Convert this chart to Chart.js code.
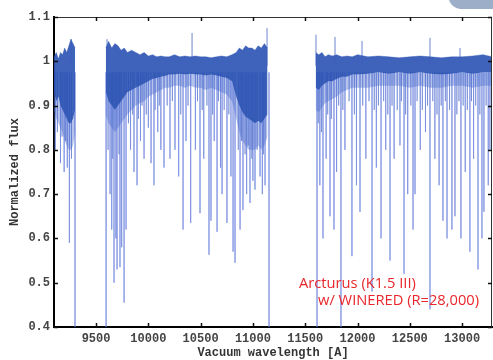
<!DOCTYPE html>
<html>
<head>
<meta charset="utf-8">
<script src="https://cdn.jsdelivr.net/npm/chart.js@4.4.0/dist/chart.umd.min.js"></script>
<style>
  html, body { margin: 0; padding: 0; background: #fff; }
  #wrap { width: 493px; height: 360px; }
</style>
</head>
<body>
<div id="wrap"><canvas id="spectrum" width="493" height="360"></canvas></div>
<script>
// --- axes ---
const xTicks = [9500, 10000, 10500, 11000, 11500, 12000, 12500, 13000];
const yTicks = [0.4, 0.5, 0.6, 0.7, 0.8, 0.9, 1.0, 1.1];
const yTickLabels = ['0.4', '0.5', '0.6', '0.7', '0.8', '0.9', '1', '1.1'];

// --- spectrum band, segment 1 (wavelength, upper edge, dense core bottom, faint bottom) ---
const seg1Wave = [9098, 9120, 9140, 9160, 9180, 9200, 9220, 9240, 9260, 9280, 9300];
const seg1Top  = [1.01, 1.02, 1.005, 1.02, 1.015, 1.03, 1.02, 1.035, 1.05, 1.04, 1.03];
const seg1Core = [0.93, 0.91, 0.92, 0.90, 0.89, 0.88, 0.87, 0.86, 0.86, 0.87, 0.89];
const seg1Low  = [0.89, 0.87, 0.86, 0.85, 0.84, 0.82, 0.81, 0.80, 0.80, 0.81, 0.84];

// segment 2
const seg2Wave = [9593, 9620, 9650, 9680, 9710, 9740, 9770, 9800, 9840, 9880, 9920, 9960, 10000, 10040, 10080,
                  10120, 10160, 10200, 10250, 10300, 10350, 10400, 10450, 10500, 10550, 10600, 10650, 10700,
                  10750, 10800, 10840, 10870, 10900, 10930, 10960, 10990, 11020, 11050, 11080, 11110, 11140];
const seg2Top  = [1.03, 1.045, 1.03, 1.04, 1.035, 1.025, 1.03, 1.02, 1.025, 1.02, 1.015, 1.02, 1.012, 1.015, 1.01,
                  1.012, 1.01, 1.01, 1.015, 1.01, 1.012, 1.01, 1.012, 1.01, 1.01, 1.008, 1.01, 1.012,
                  1.01, 1.015, 1.02, 1.03, 1.025, 1.035, 1.03, 1.03, 1.025, 1.035, 1.03, 1.04, 1.03];
const seg2Core = [0.93, 0.91, 0.90, 0.89, 0.90, 0.91, 0.92, 0.93, 0.935, 0.94, 0.945, 0.95, 0.955, 0.96, 0.962,
                  0.965, 0.967, 0.97, 0.97, 0.972, 0.97, 0.972, 0.97, 0.97, 0.968, 0.97, 0.968, 0.965,
                  0.962, 0.955, 0.92, 0.90, 0.885, 0.875, 0.87, 0.865, 0.86, 0.865, 0.86, 0.87, 0.88];
const seg2Low  = [0.88, 0.86, 0.85, 0.84, 0.85, 0.86, 0.87, 0.88, 0.89, 0.90, 0.905, 0.91, 0.92, 0.925, 0.93,
                  0.935, 0.94, 0.94, 0.945, 0.945, 0.94, 0.945, 0.94, 0.94, 0.935, 0.94, 0.935, 0.93,
                  0.925, 0.91, 0.87, 0.84, 0.82, 0.81, 0.80, 0.80, 0.80, 0.81, 0.80, 0.81, 0.83];

// segment 3
const seg3Wave = [11600, 11630, 11660, 11690, 11720, 11760, 11800, 11850, 11900, 11950, 12000, 12100,
                  12200, 12300, 12400, 12500, 12600, 12700, 12800, 12900, 13000, 13100, 13200, 13290];
const seg3Top  = [1.02, 1.015, 1.02, 1.01, 1.015, 1.012, 1.015, 1.01, 1.012, 1.01, 1.015, 1.01,
                  1.012, 1.01, 1.008, 1.01, 1.012, 1.01, 1.008, 1.01, 1.01, 1.012, 1.015, 1.01];
const seg3Core = [0.94, 0.935, 0.945, 0.95, 0.955, 0.955, 0.96, 0.965, 0.965, 0.97, 0.97, 0.972,
                  0.975, 0.972, 0.975, 0.972, 0.975, 0.972, 0.97, 0.972, 0.975, 0.972, 0.975, 0.975];
const seg3Low  = [0.89, 0.885, 0.895, 0.905, 0.91, 0.915, 0.92, 0.93, 0.935, 0.94, 0.94, 0.94,
                  0.945, 0.945, 0.945, 0.94, 0.945, 0.94, 0.94, 0.945, 0.945, 0.94, 0.945, 0.945];

// --- absorption lines: wavelength and line-bottom flux ---
const absWave = [9110, 9160, 9195, 9225, 9245, 9299,
                 9596, 9634, 9650, 9672, 9690, 9701, 9729, 9745, 9768, 9787,
                 9830, 9863, 9892, 9925, 9959, 10000, 10026, 10054, 10090, 10120, 10150,
                 10207, 10255, 10290, 10332, 10360, 10405, 10450, 10494, 10530, 10580, 10599, 10630,
                 10657, 10690, 10705, 10752, 10790, 10810, 10829, 10877, 10905, 10940, 10972, 11000,
                 11020, 11068, 11090, 11116, 11154,
                 11613, 11640, 11670, 11700, 11737, 11775, 11800, 11842, 11880, 11947, 11990, 12024,
                 12080, 12139, 12180, 12225, 12270, 12311, 12350, 12406, 12445, 12480, 12531, 12550,
                 12600, 12650, 12693, 12740, 12780, 12817, 12856, 12903, 12932, 12989, 13030, 13075,
                 13110, 13152, 13190, 13209, 13250, 13266];
const absDepth = [0.80, 0.77, 0.75, 0.76, 0.59, 0.40,
                  0.40, 0.70, 0.62, 0.50, 0.60, 0.53, 0.535, 0.58, 0.455, 0.62,
                  0.80, 0.75, 0.72, 0.82, 0.78, 0.85, 0.77, 0.72, 0.84, 0.80, 0.76,
                  0.78, 0.80, 0.74, 0.62, 0.82, 0.635, 0.80, 0.657, 0.78, 0.563, 0.64, 0.82,
                  0.615, 0.76, 0.70, 0.635, 0.74, 0.57, 0.545, 0.62, 0.664, 0.70, 0.68, 0.73,
                  0.71, 0.74, 0.70, 0.72, 0.40,
                  0.40, 0.72, 0.60, 0.78, 0.65, 0.62, 0.75, 0.40, 0.80, 0.56, 0.72, 0.66,
                  0.78, 0.48, 0.76, 0.60, 0.80, 0.55, 0.78, 0.81, 0.52, 0.70, 0.62, 0.70,
                  0.80, 0.84, 0.44, 0.78, 0.72, 0.64, 0.60, 0.62, 0.65, 0.60, 0.75, 0.57,
                  0.78, 0.53, 0.60, 0.66, 0.72, 0.80];

// shallow lines that give the band its hairline texture
const weakWave = [9130, 9175, 9210, 9265, 9615, 9660, 9720, 9810, 9850, 9905, 9940, 9980, 10065, 10105, 10180,
                  10230, 10310, 10380, 10470, 10515, 10560, 10615, 10670, 10725, 10770, 10860, 10890, 10925,
                  10955, 10990, 11040, 11100, 11625, 11655, 11715, 11750, 11820, 11860, 11920, 11970, 12050,
                  12110, 12160, 12200, 12250, 12290, 12330, 12380, 12420, 12460, 12510, 12570, 12620, 12670,
                  12720, 12760, 12800, 12840, 12880, 12950, 12970, 13010, 13050, 13090, 13130, 13170, 13230, 13280];
const weakDepth = [0.84, 0.83, 0.82, 0.78, 0.80, 0.78, 0.79, 0.86, 0.88, 0.87, 0.90, 0.88, 0.89, 0.90, 0.90,
                   0.91, 0.88, 0.90, 0.91, 0.89, 0.90, 0.88, 0.91, 0.89, 0.88, 0.80, 0.82, 0.79,
                   0.81, 0.78, 0.80, 0.79, 0.86, 0.84, 0.88, 0.87, 0.90, 0.89, 0.91, 0.88, 0.90,
                   0.91, 0.89, 0.90, 0.91, 0.88, 0.90, 0.89, 0.91, 0.88, 0.90, 0.91, 0.89, 0.90,
                   0.91, 0.88, 0.90, 0.91, 0.89, 0.88, 0.91, 0.90, 0.89, 0.91, 0.90, 0.88, 0.90, 0.91];

// emission-like spikes above the continuum: wavelength, peak flux
const spikeWave = [9262, 9605, 10418, 11135, 11603, 11785, 12043, 12693, 12980];
const spikeTop  = [1.05, 1.05, 1.064, 1.075, 1.06, 1.055, 1.046, 1.053, 1.03];

const noteLines = ['Arcturus (K1.5 III)', 'w/ WINERED (R=28,000)'];

// --- colours ---
const coreBlue = 'rgba(42, 82, 178, 0.9)';
const faintBlue = 'rgba(70, 104, 205, 0.4)';
const lineBlue = 'rgba(105, 128, 222, 0.5)';

function pts(wave, vals) {
    return wave.map((w, i) => ({ x: w, y: vals[i] }));
}

function bandSets(wave, top, core, low) {
    return [
        { data: pts(wave, top), fill: '+1', backgroundColor: coreBlue, borderColor: 'rgba(42, 82, 178, 0.6)', borderWidth: 0.6, order: 1 },
        { data: pts(wave, core), fill: '+1', backgroundColor: faintBlue, borderColor: 'transparent', borderWidth: 0, order: 1 },
        { data: pts(wave, low), fill: false, borderColor: 'transparent', borderWidth: 0, order: 1 }
    ];
}

function verticals(wave, ends, start) {
    const out = [];
    wave.forEach((w, i) => {
        out.push({ x: w, y: start }, { x: w, y: ends[i] }, { x: w, y: null });
    });
    return out;
}

const datasets = [
    ...bandSets(seg1Wave, seg1Top, seg1Core, seg1Low),
    ...bandSets(seg2Wave, seg2Top, seg2Core, seg2Low),
    ...bandSets(seg3Wave, seg3Top, seg3Core, seg3Low),
    { data: verticals(absWave, absDepth, 0.975), borderColor: lineBlue, borderWidth: 1, fill: false, order: 2 },
    { data: verticals(weakWave, weakDepth, 0.975), borderColor: 'rgba(70, 100, 200, 0.35)', borderWidth: 1, fill: false, order: 2 },
    { data: verticals(spikeWave, spikeTop, 0.99), borderColor: 'rgba(60, 92, 190, 0.75)', borderWidth: 1, fill: false, order: 0 }
];
datasets.forEach(d => { d.pointRadius = 0; d.tension = 0; d.spanGaps = false; });

// frame, inward tick marks, note text and the slide corner
const decor = {
    id: 'decor',
    beforeDraw(chart) {
        const c = chart.ctx;
        c.save();
        c.fillStyle = 'rgba(140, 160, 192, 0.85)';
        c.beginPath();
        c.moveTo(449, 0); c.lineTo(493, 0); c.lineTo(493, 9); c.lineTo(460, 9);
        c.quadraticCurveTo(452, 8, 449, 0);
        c.fill();
        c.restore();
    },
    afterDraw(chart) {
        const c = chart.ctx, a = chart.chartArea;
        const xs = chart.scales.x, ys = chart.scales.y;
        c.save();
        c.strokeStyle = '#333';
        c.lineWidth = 1;
        c.beginPath();
        c.moveTo(a.left, a.top + 0.5); c.lineTo(a.right, a.top + 0.5);
        c.moveTo(a.right - 0.5, a.top); c.lineTo(a.right - 0.5, a.bottom);
        c.stroke();
        c.strokeStyle = '#111';
        c.lineWidth = 1.5;
        c.beginPath();
        xTicks.forEach(v => {
            const px = Math.round(xs.getPixelForValue(v)) + 0.5;
            c.moveTo(px, a.bottom); c.lineTo(px, a.bottom - 4);
            c.moveTo(px, a.top); c.lineTo(px, a.top + 4);
        });
        yTicks.forEach(v => {
            const py = Math.round(ys.getPixelForValue(v)) + 0.5;
            c.moveTo(a.left, py); c.lineTo(a.left + 4, py);
            c.moveTo(a.right, py); c.lineTo(a.right - 4, py);
        });
        c.stroke();
        c.fillStyle = '#e8262b';
        c.font = '14.7px "Open Sans"';
        c.textBaseline = 'alphabetic';
        c.fillText(noteLines[0], 299, 288);
        c.fillText(noteLines[1], 318, 305);
        c.restore();
    }
};

const monoFont = { family: '"Liberation Mono", "DejaVu Sans Mono", monospace', size: 12, weight: 'bold' };

new Chart(document.getElementById('spectrum'), {
    type: 'line',
    data: { datasets: datasets },
    options: {
        responsive: false,
        animation: false,
        devicePixelRatio: 1,
        layout: { padding: { top: 17, right: 1, left: 0, bottom: 0 } },
        plugins: { legend: { display: false }, tooltip: { enabled: false } },
        scales: {
            x: {
                type: 'linear', min: 9098, max: 13286,
                afterBuildTicks: s => { s.ticks = xTicks.map(v => ({ value: v })); },
                afterFit: s => { s.height = 33; },
                grid: { display: true, drawOnChartArea: false, drawTicks: false },
                border: { display: true, color: '#000', width: 2 },
                ticks: { color: '#444', font: monoFont, padding: 5, maxRotation: 0, callback: v => String(v) },
                title: { display: true, text: 'Vacuum wavelength [A]', color: '#333', font: monoFont, padding: { top: 0, bottom: 0 } }
            },
            y: {
                type: 'linear', min: 0.4, max: 1.1,
                afterBuildTicks: s => { s.ticks = yTicks.map(v => ({ value: v })); },
                afterFit: s => { s.width = 54; },
                grid: { display: true, drawOnChartArea: false, drawTicks: false },
                border: { display: true, color: '#000', width: 2 },
                ticks: { color: '#444', font: monoFont, padding: 4,
                         callback: (v, i) => yTickLabels[i] },
                title: { display: true, text: 'Normalized flux', color: '#333', font: monoFont, padding: { top: 8, bottom: 0 } }
            }
        }
    },
    plugins: [decor]
});
</script>
</body>
</html>
